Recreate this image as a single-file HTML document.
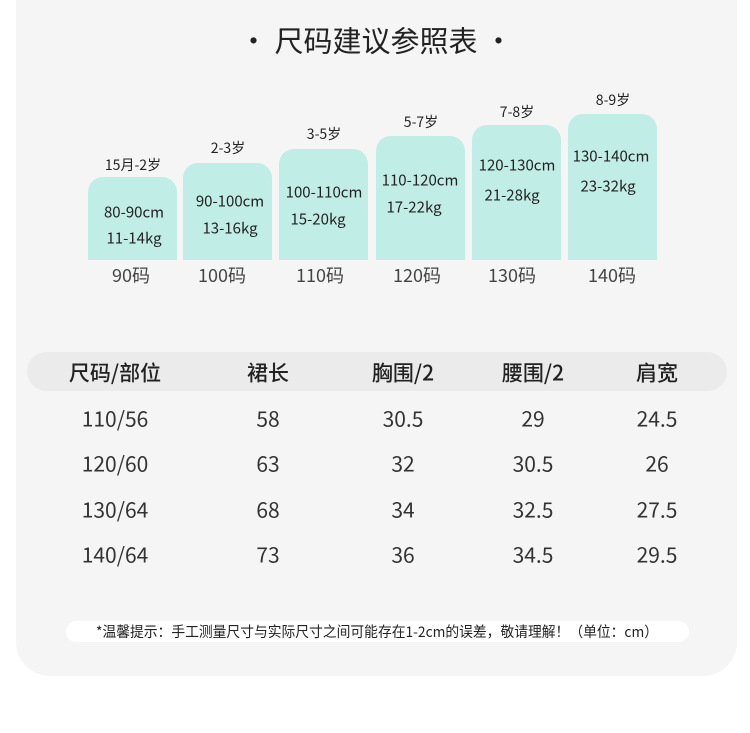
<!DOCTYPE html><html><head><meta charset="utf-8"><style>
body{margin:0;width:750px;height:733px;background:#fff;position:relative;font-family:"Noto Sans CJK SC",sans-serif;color:#222;overflow:hidden}
.panel{position:absolute;left:16px;top:-40px;width:721px;height:716px;background:#f5f5f5;border-radius:34px}
.a{position:absolute;text-align:center;white-space:nowrap;transform:translate(-50%,-50%);line-height:1}
.bar{position:absolute;background:#c1ede7;border-radius:15px 15px 0 0;width:89px;bottom:473px}
.hdr{position:absolute;left:27px;top:352px;width:700px;height:39px;background:#ebebeb;border-radius:20px}
.note{position:absolute;left:66px;top:621px;width:623px;height:21px;background:#fff;border-radius:11px}
.nt{position:absolute;left:377px;top:632px;font-size:14.5px;line-height:1;white-space:nowrap;transform:translate(-50%,-50%) scaleX(0.95);color:#222}
.d{font-size:21px;color:#333}
.h{font-size:21px;font-weight:500}
</style></head><body>
<div class="panel"></div>
<div class="a" style="left:376px;top:40px;font-size:29px;color:#222">·&nbsp;尺码建议参照表&nbsp;·</div>

<div class="bar" style="left:88px;top:177px"></div>
<div class="bar" style="left:183px;top:163px"></div>
<div class="bar" style="left:279px;top:149px"></div>
<div class="bar" style="left:376px;top:136px"></div>
<div class="bar" style="left:472px;top:125px"></div>
<div class="bar" style="left:568px;top:114px"></div>

<div class="a" style="left:133px;top:165px;font-size:14px">15月-2岁</div>
<div class="a" style="left:228px;top:148px;font-size:14px">2-3岁</div>
<div class="a" style="left:324px;top:134px;font-size:14px">3-5岁</div>
<div class="a" style="left:421px;top:122px;font-size:14px">5-7岁</div>
<div class="a" style="left:517px;top:112px;font-size:14px">7-8岁</div>
<div class="a" style="left:613px;top:100px;font-size:14px">8-9岁</div>

<div class="a" style="left:134px;top:212px;font-size:15px">80-90cm</div>
<div class="a" style="left:134px;top:238px;font-size:15px">11-14kg</div>
<div class="a" style="left:230px;top:201px;font-size:15px">90-100cm</div>
<div class="a" style="left:230px;top:228px;font-size:15px">13-16kg</div>
<div class="a" style="left:324px;top:192px;font-size:15px">100-110cm</div>
<div class="a" style="left:318px;top:219px;font-size:15px">15-20kg</div>
<div class="a" style="left:420px;top:180px;font-size:15px">110-120cm</div>
<div class="a" style="left:414px;top:207px;font-size:15px">17-22kg</div>
<div class="a" style="left:517px;top:165px;font-size:15px">120-130cm</div>
<div class="a" style="left:512px;top:195px;font-size:15px">21-28kg</div>
<div class="a" style="left:611px;top:156px;font-size:15px">130-140cm</div>
<div class="a" style="left:608px;top:186px;font-size:15px">23-32kg</div>

<div class="a" style="left:131px;top:275px;font-size:18px;color:#444">90码</div>
<div class="a" style="left:222px;top:275px;font-size:18px;color:#444">100码</div>
<div class="a" style="left:320px;top:275px;font-size:18px;color:#444">110码</div>
<div class="a" style="left:417px;top:275px;font-size:18px;color:#444">120码</div>
<div class="a" style="left:512px;top:275px;font-size:18px;color:#444">130码</div>
<div class="a" style="left:612px;top:275px;font-size:18px;color:#444">140码</div>

<div class="hdr"></div>
<div class="a h" style="left:115px;top:373px">尺码/部位</div>
<div class="a h" style="left:268px;top:373px">裙长</div>
<div class="a h" style="left:403px;top:373px">胸围/2</div>
<div class="a h" style="left:533px;top:373px">腰围/2</div>
<div class="a h" style="left:657px;top:373px">肩宽</div>

<div class="a d" style="left:115px;top:419px">110/56</div>
<div class="a d" style="left:268px;top:419px">58</div>
<div class="a d" style="left:403px;top:419px">30.5</div>
<div class="a d" style="left:533px;top:419px">29</div>
<div class="a d" style="left:657px;top:419px">24.5</div>

<div class="a d" style="left:115px;top:464px">120/60</div>
<div class="a d" style="left:268px;top:464px">63</div>
<div class="a d" style="left:403px;top:464px">32</div>
<div class="a d" style="left:533px;top:464px">30.5</div>
<div class="a d" style="left:657px;top:464px">26</div>

<div class="a d" style="left:115px;top:510px">130/64</div>
<div class="a d" style="left:268px;top:510px">68</div>
<div class="a d" style="left:403px;top:510px">34</div>
<div class="a d" style="left:533px;top:510px">32.5</div>
<div class="a d" style="left:657px;top:510px">27.5</div>

<div class="a d" style="left:115px;top:555px">140/64</div>
<div class="a d" style="left:268px;top:555px">73</div>
<div class="a d" style="left:403px;top:555px">36</div>
<div class="a d" style="left:533px;top:555px">34.5</div>
<div class="a d" style="left:657px;top:555px">29.5</div>

<div class="note"></div>
<div class="nt">*温馨提示：手工测量尺寸与实际尺寸之间可能存在1-2cm的误差，敬请理解！（单位：cm）</div>
</body></html>
